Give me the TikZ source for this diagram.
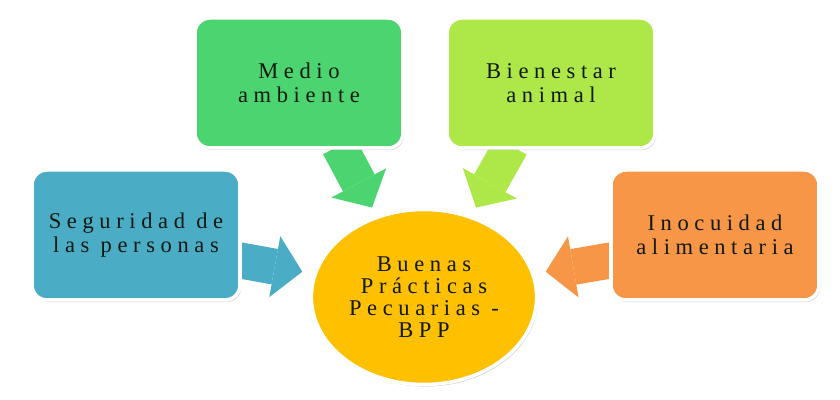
\documentclass[tikz,border=0pt]{standalone}
\usepackage{fontspec}
\setmainfont[LetterSpace=25]{Liberation Serif}
\usetikzlibrary{arrows.meta,positioning,shapes.geometric,shadows,backgrounds}
\definecolor{BoxBlue}{RGB}{75,172,198}
\definecolor{BoxGreen}{RGB}{76,212,112}
\definecolor{BoxLime}{RGB}{174,232,72}
\definecolor{BoxOrange}{RGB}{247,150,70}
\definecolor{CoreYellow}{RGB}{255,192,0}
\definecolor{TextDark}{RGB}{15,25,15}
\tikzset{
  topic/.style={draw=white,line width=2.5pt,rounded corners=0.375cm,
    minimum width=5.2cm,minimum height=3.25cm,align=center,text=TextDark,
    font=\fontsize{16}{17}\selectfont,
    drop shadow={shadow xshift=1pt,shadow yshift=-1.5pt,opacity=0.35}},
  core/.style={ellipse,draw=white,line width=2.5pt,fill=CoreYellow,
    minimum width=5.45cm,minimum height=4.375cm,align=center,text=TextDark,
    font=\fontsize{16}{15.6}\selectfont,
    drop shadow={shadow xshift=1pt,shadow yshift=-1.5pt,opacity=0.35}},
  blockarrow/.style={line width=0.9cm,
    -{Triangle[length=0.7cm,width=1.55cm,line width=0pt]}}
}
\begin{document}
\begin{tikzpicture}
  \useasboundingbox (0,0) rectangle (21,10);
  \node[topic,fill=BoxBlue] (seg) at (3.4,4.125) {Seguridad de\\las personas};
  \node[topic,fill=BoxGreen] (medio) at (7.475,7.925) {Medio\\ambiente};
  \node[topic,fill=BoxLime] (bien) at (13.775,7.925) {Bienestar\\animal};
  \node[topic,fill=BoxOrange] (inoc) at (17.875,4.125) {Inocuidad\\alimentaria};
  \node[core] (bpp) at (10.6,2.575) {Buenas\\Prácticas\\Pecuarias -\\BPP};
  % arrow tips just outside the circle
  \coordinate (tipseg) at ([xshift=-0.3cm]bpp.167);
  \coordinate (tipinoc) at ([xshift=0.3cm]bpp.13);
  \coordinate (tipmedio) at ([shift={(-0.125,0.2)}]bpp.120);
  \coordinate (tipbien) at ([shift={(0.125,0.2)}]bpp.60);
  \begin{scope}[on background layer]
    \draw[blockarrow,BoxBlue] ([shift={(-0.1,-0.625)}]seg.east) -- (tipseg);
    \draw[blockarrow,BoxOrange] ([shift={(0.1,-0.625)}]inoc.west) -- (tipinoc);
    \draw[blockarrow,BoxGreen] ([shift={(1.0,0.1)}]medio.south) -- (tipmedio);
    \draw[blockarrow,BoxLime] ([shift={(-1.0,0.1)}]bien.south) -- (tipbien);
  \end{scope}
\end{tikzpicture}
\end{document}
